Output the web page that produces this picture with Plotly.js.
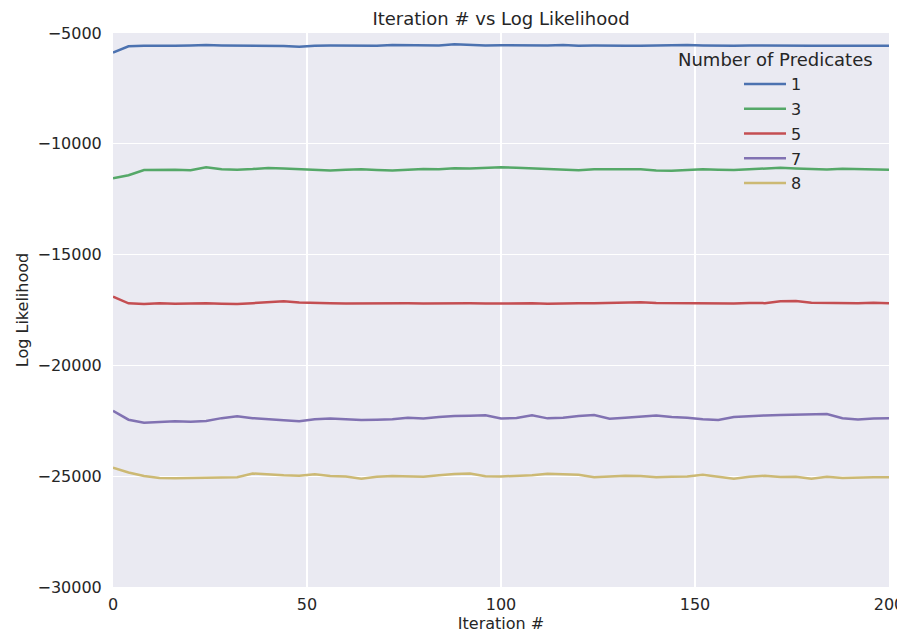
<!DOCTYPE html>
<html>
<head>
<meta charset="utf-8">
<script src="https://cdn.plot.ly/plotly-3.0.1.min.js"></script>
<style>html,body{margin:0;padding:0;background:#fff;}#chart{width:897px;height:641px;}</style>
</head>
<body>
<div id="chart"></div>
<script>
// Iteration numbers (sampled every 4 iterations)
const iterations = [0,4,8,12,16,20,24,28,32,36,40,44,48,52,56,60,64,68,72,76,80,84,88,92,96,100,104,108,112,116,120,124,128,132,136,140,144,148,152,156,160,164,168,172,176,180,184,188,192,196,200];

const seriesNames = ["1","3","5","7","8"];
const seriesColors = ["#4C72B0","#55A868","#C44E52","#8172B2","#CCB974"];

const pred1 = [-5880,-5600,-5570,-5580,-5570,-5560,-5540,-5560,-5570,-5580,-5560,-5590,-5620,-5570,-5560,-5570,-5550,-5570,-5540,-5550,-5570,-5560,-5510,-5540,-5560,-5550,-5560,-5580,-5560,-5540,-5570,-5560,-5550,-5570,-5580,-5560,-5550,-5540,-5560,-5580,-5570,-5560,-5570,-5550,-5560,-5580,-5570,-5560,-5570,-5580,-5570];
const pred3 = [-11560,-11420,-11180,-11160,-11170,-11190,-11060,-11150,-11170,-11140,-11090,-11110,-11150,-11160,-11200,-11170,-11150,-11180,-11200,-11170,-11140,-11150,-11100,-11120,-11090,-11060,-11080,-11110,-11140,-11170,-11190,-11150,-11160,-11170,-11150,-11200,-11220,-11180,-11150,-11170,-11180,-11150,-11130,-11080,-11110,-11140,-11160,-11130,-11150,-11170,-11170];
const pred5 = [-16900,-17200,-17230,-17190,-17220,-17200,-17200,-17220,-17230,-17190,-17160,-17110,-17160,-17190,-17200,-17210,-17200,-17190,-17180,-17200,-17210,-17200,-17190,-17200,-17210,-17200,-17190,-17200,-17220,-17200,-17190,-17200,-17190,-17180,-17150,-17180,-17190,-17190,-17180,-17200,-17210,-17180,-17190,-17110,-17090,-17170,-17190,-17210,-17200,-17170,-17200];
const pred7 = [-22050,-22450,-22590,-22570,-22520,-22540,-22510,-22380,-22290,-22380,-22440,-22470,-22520,-22430,-22400,-22440,-22460,-22450,-22430,-22360,-22400,-22330,-22280,-22270,-22250,-22400,-22370,-22250,-22390,-22360,-22280,-22240,-22410,-22360,-22300,-22260,-22330,-22360,-22430,-22460,-22330,-22280,-22260,-22240,-22230,-22230,-22190,-22380,-22440,-22400,-22390];
const pred8 = [-24620,-24830,-24990,-25080,-25090,-25080,-25060,-25030,-25050,-24880,-24930,-24960,-24980,-24910,-24990,-25010,-25110,-25020,-24990,-25020,-25020,-24960,-24900,-24880,-25000,-25010,-24980,-24960,-24890,-24930,-24940,-25050,-25010,-24980,-24990,-25050,-25020,-25010,-24930,-25020,-25110,-25020,-24980,-25040,-25020,-25110,-25020,-25080,-25050,-25050,-25050];

const xTickVals = [0,50,100,150,200];
const yTickVals = [-30000,-25000,-20000,-15000,-10000,-5000];
const yTickText = ["\u221230000","\u221225000","\u221220000","\u221215000","\u221210000","\u22125000"];

const allSeries = [pred1,pred3,pred5,pred7,pred8];
const traces = allSeries.map((ys,i)=>({
  x: iterations, y: ys, type: 'scatter', mode: 'lines',
  name: seriesNames[i], legendgroup: 'g' + i,
  line: {color: seriesColors[i], width: 2.5}
}));

const font = "DejaVu Sans, sans-serif";
const layout = {
  width: 897, height: 641,
  margin: {l: 113, r: 8, t: 33, b: 54},
  paper_bgcolor: '#ffffff',
  plot_bgcolor: '#EAEAF2',
  font: {family: font, color: '#262626', size: 16},
  title: {text: 'Iteration # vs Log Likelihood', font: {size: 18, color: '#262626'},
          x: 0.5, xref: 'paper', yref: 'container', y: 1 - 19/641, yanchor: 'middle'},
  xaxis: {
    range: [0, 200], tickvals: xTickVals, showgrid: true, gridcolor: '#ffffff', gridwidth: 1.3,
    zeroline: false, showline: false, ticks: 'outside', ticklen: 3, tickcolor: 'rgba(0,0,0,0)',
    ticklabeloverflow: 'allow',
    tickfont: {size: 16, color: '#262626'},
    title: {text: 'Iteration #', font: {size: 16, color: '#262626'}, standoff: 4}
  },
  yaxis: {
    range: [-30000, -5000], tickvals: yTickVals, ticktext: yTickText, showgrid: true, gridcolor: '#ffffff', gridwidth: 1.3,
    zeroline: false, showline: false, ticks: 'outside', ticklen: 7, tickcolor: 'rgba(0,0,0,0)',
    tickfont: {size: 16, color: '#262626'},
    title: {text: 'Log Likelihood', font: {size: 16, color: '#262626'}, standoff: 4}
  },
  showlegend: true,
  legend: {
    x: (739-113)/776, xanchor: 'left', y: 1 - (67-33)/554, yanchor: 'top',
    bgcolor: 'rgba(0,0,0,0)', borderwidth: 0, tracegroupgap: 1,
    font: {size: 16, color: '#262626'}, itemwidth: 42
  },
  annotations: [{
    text: 'Number of Predicates', xref: 'paper', yref: 'paper',
    x: (775-113)/776, y: 1 - (59-33)/554, xanchor: 'center', yanchor: 'middle',
    showarrow: false, font: {size: 18, color: '#262626'}
  }]
};

Plotly.newPlot('chart', traces, layout, {displayModeBar: false, staticPlot: true});
</script>
</body>
</html>
